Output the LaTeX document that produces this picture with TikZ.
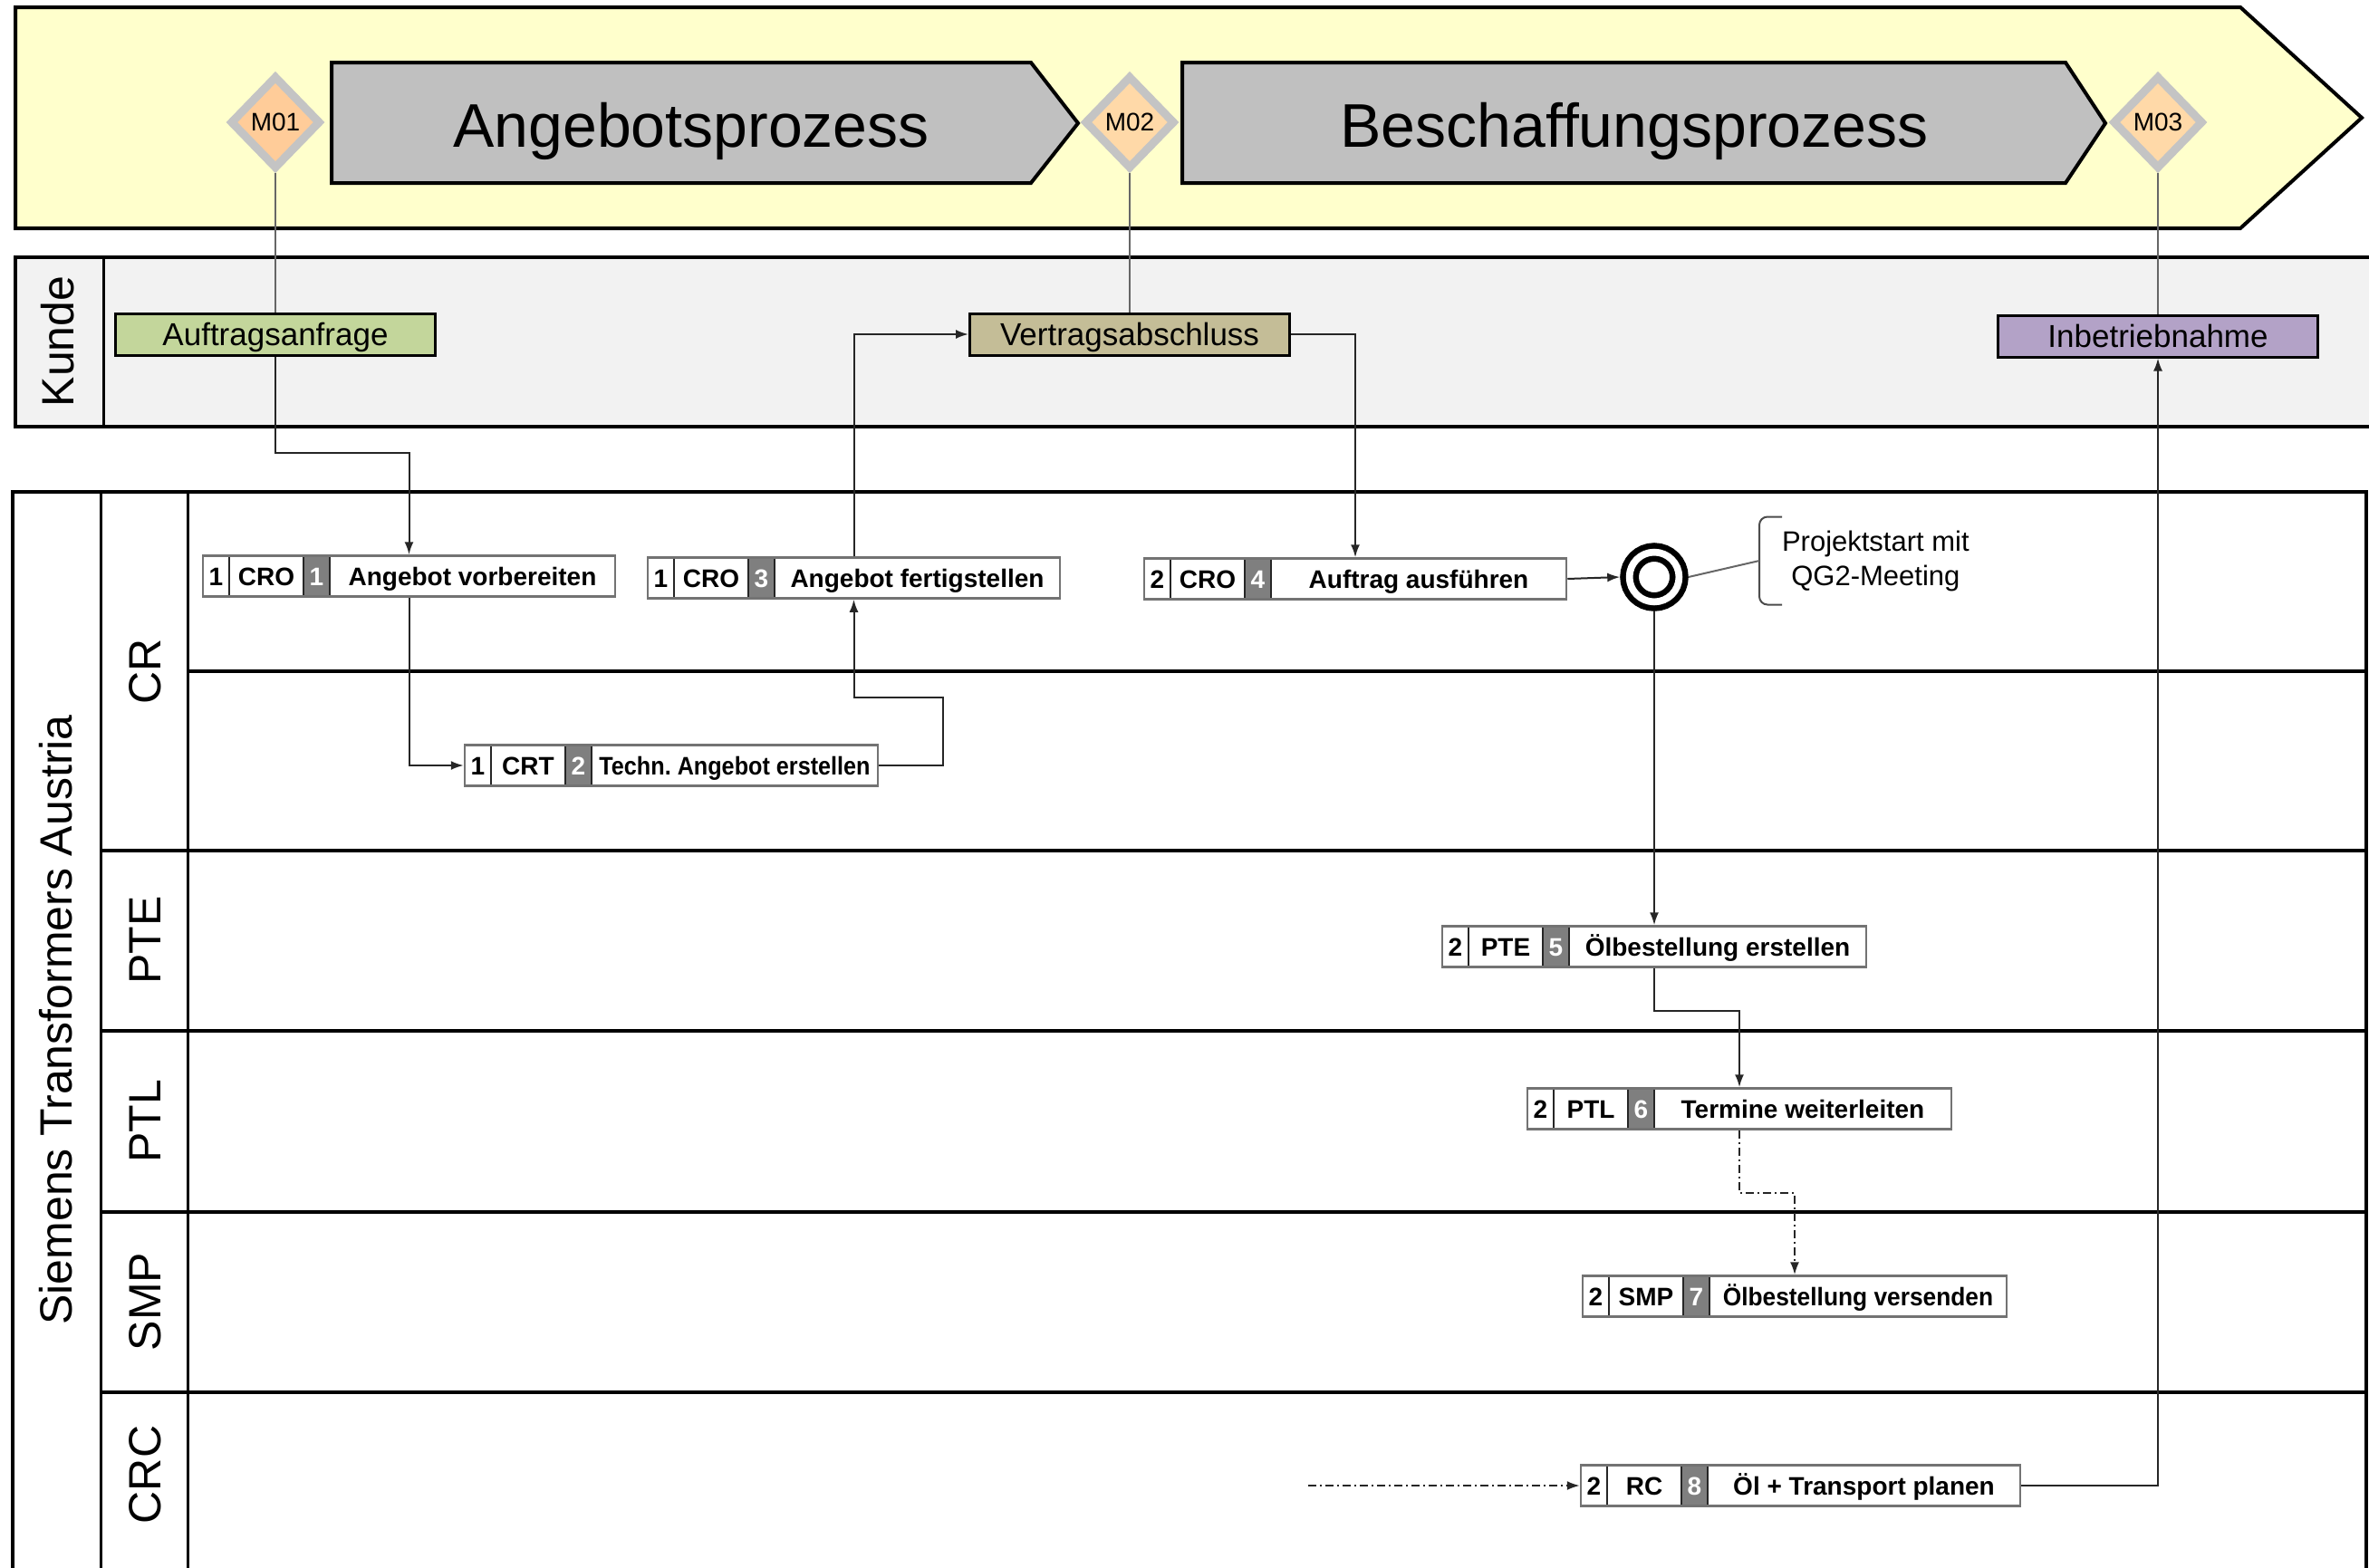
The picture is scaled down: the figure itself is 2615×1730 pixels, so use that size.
\documentclass[tikz,border=0pt]{standalone}
\usepackage{fontspec}
\setmainfont{Liberation Sans}
\usepackage{graphicx}
\usetikzlibrary{positioning,shapes.geometric,arrows.meta,fit}

\definecolor{bandyellow}{HTML}{FFFFCC}
\definecolor{phasegray}{HTML}{C0C0C0}
\definecolor{kundegray}{HTML}{F2F2F2}
\definecolor{msorange}{HTML}{FFCC99}
\definecolor{mslight}{HTML}{FFD9A8}
\definecolor{msframe}{HTML}{C4C4C4}
\definecolor{reqgreen}{HTML}{C3D69B}
\definecolor{contracttan}{HTML}{C4BD97}
\definecolor{startlilac}{HTML}{B3A2C7}
\definecolor{stepgray}{HTML}{7F7F7F}

\tikzset{
  milestone/.style={diamond,draw=msframe,line width=9pt,inner sep=0pt,
    minimum width=100pt,minimum height=103pt,font=\fontsize{28}{30}\selectfont},
  phasetitle/.style={font=\fontsize{68}{70}\selectfont},
  kundebox/.style={draw=black,line width=3pt,minimum width=353pt,minimum height=46pt,
    inner sep=0pt,text height=25pt,text depth=0pt,font=\fontsize{35}{38}\selectfont},
  lanelabel/.style={rotate=90,font=\fontsize{50}{54}\selectfont},
  lane/.style={line width=4pt},
  cell/.style={draw=black!85,line width=1.5pt,minimum height=45pt,inner sep=0pt,outer sep=0pt,
    text height=20pt,text depth=0pt,font=\fontsize{28}{30}\selectfont\bfseries},
  phasecell/.style={cell,minimum width=29pt},
  rolecell/.style={cell,minimum width=82pt},
  stepcell/.style={cell,minimum width=29pt,fill=stepgray,text=white},
  taskcell/.style={cell},
  actframe/.style={draw=black!55,line width=2.5pt,inner sep=0pt},
  event/.style={circle,draw,line width=6.5pt,double,double distance=7.7pt,
    minimum size=54.8pt,inner sep=0pt,outer sep=10.4pt},
  note/.style={align=center,inner xsep=25pt,inner ysep=0pt,outer sep=0pt,
    minimum height=97pt,font=\fontsize{31}{38}\selectfont},
  flow/.style={draw=black!85,line width=2pt,-{Latex[length=14pt,width=10pt]}},
  dashflow/.style={flow,dash pattern=on 9pt off 4pt on 2pt off 4pt},
  msline/.style={draw=black!60,line width=2pt},
}

% one activity: phase | role | step | task
\newcommand{\activity}[7]{%
  \node[phasecell,anchor=west] (#1_p) at #2 {#3};
  \node[rolecell] (#1_r) [right=0pt of #1_p] {#4};
  \node[stepcell] (#1_s) [right=0pt of #1_r] {#5};
  \node[taskcell,minimum width=#7pt] (#1_t) [right=0pt of #1_s] {#6};
  \node[actframe,fit=(#1_p)(#1_t)] (#1) {};
}

\begin{document}
\begin{tikzpicture}[x=1pt,y=-1pt]
  \useasboundingbox (0,0) rectangle (2615,1730);

  % phase band
  \draw[fill=bandyellow,line width=4pt] (17,8) -- (2473,8) -- (2607,130) -- (2473,252) -- (17,252) -- cycle;
  \draw[fill=phasegray,line width=4pt] (366,69) -- (1138,69) -- (1190,136) -- (1138,202) -- (366,202) -- cycle;
  \draw[fill=phasegray,line width=4pt] (1305,69) -- (2280,69) -- (2324,136) -- (2280,202) -- (1305,202) -- cycle;
  \node[phasetitle] (p_1) at (763,145) {Angebotsprozess};
  \node[phasetitle] (p_2) at (1804,145) {Beschaffungsprozess};
  \node[milestone,fill=msorange] (m_1) at (304,135) {M01};
  \node[milestone,fill=mslight] (m_2) at (1247,135) {M02};
  \node[milestone,fill=mslight] (m_3) at (2382,135) {M03};

  % customer lane
  \draw[fill=kundegray,line width=4pt] (17,284) rectangle (2640,471);
  \draw[line width=3pt] (114,284) -- (114,471);
  \node[lanelabel] (l_0) at (64,377) {Kunde};
  \node[kundebox,fill=reqgreen] (k_1) at (304,369) {Auftragsanfrage};
  \node[kundebox,fill=contracttan] (k_2) at (1247,369) {Vertragsabschluss};
  \node[kundebox,fill=startlilac] (k_3) at (2382,371) {Inbetriebnahme};

  % company pool with its lanes
  \draw[line width=4pt] (14,543) rectangle (2612,1770);
  \draw[line width=3pt] (111,543) -- (111,1770) (207,543) -- (207,1770);
  \foreach \y in {939,1138,1338,1537}
    \draw[lane] (111,\y) -- (2612,\y);
  \draw[lane] (207,741) -- (2612,741);
  \node[lanelabel] (l_1) at (62,1126) {Siemens Transformers Austria};
  \node[lanelabel] (l_2) at (160,741) {CR};
  \node[lanelabel] (l_3) at (160,1038) {PTE};
  \node[lanelabel] (l_4) at (160,1238) {PTL};
  \node[lanelabel] (l_5) at (160,1437) {SMP};
  \node[lanelabel] (l_6) at (160,1628) {CRC};

  % activities
  \activity{a_1}{(224,636)}{1}{CRO}{1}{Angebot vorbereiten}{315}
  \activity{a_2}{(513,845)}{1}{CRT}{2}{\scalebox{0.9}[1]{Techn.\ Angebot erstellen}}{316}
  \activity{a_3}{(715,638)}{1}{CRO}{3}{Angebot fertigstellen}{315}
  \activity{a_4}{(1263,639)}{2}{CRO}{4}{Auftrag ausführen}{326}
  \activity{a_5}{(1592,1045)}{2}{PTE}{5}{Ölbestellung erstellen}{328}
  \activity{a_6}{(1686,1224)}{2}{PTL}{6}{Termine weiterleiten}{328}
  \activity{a_7}{(1747,1431)}{2}{SMP}{7}{\scalebox{0.94}[1]{Ölbestellung versenden}}{328}
  \activity{a_8}{(1745,1640)}{2}{RC}{8}{Öl + Transport planen}{345}

  \node[event] (e_1) at (1826,637) {};
  \node[note,anchor=west] (n_1) at (1942,619) {Projektstart mit\\QG2-Meeting};
  \draw[line width=2pt,black!70,rounded corners=9pt]
    ([xshift=25pt]n_1.north west) -- (n_1.north west) -- (n_1.south west) -- ([xshift=25pt]n_1.south west);
  \coordinate (c_1) at (1444,1640);

  % connectors
  \path[msline]
    (m_1) edge (k_1)
    (m_2) edge (k_2)
    (m_3) edge (k_3)
    (e_1.east) edge (n_1.west);
  \draw[flow] (k_1.south) -- ++(0,106) -| (a_1.north);
  \draw[flow] (a_1.south) |- (a_2.west);
  \draw[flow] (a_2.east) -| ++(71,-75) -| (a_3.south);
  \draw[flow] (a_3.north) |- (k_2.west);
  \draw[flow] (k_2.east) -| (a_4.north);
  \draw[flow] (a_4.east) -- (e_1.west);
  \draw[flow] (e_1.south) -- (a_5.north);
  \draw[flow] (a_5.south) -- ++(0,47) -| (a_6.north);
  \draw[dashflow] (a_6.south) -- ++(0,69) -| (a_7.north);
  \draw[dashflow] (c_1) -- (a_8.west);
  \draw[flow] (a_8.east) -| (k_3.south);
\end{tikzpicture}
\end{document}
